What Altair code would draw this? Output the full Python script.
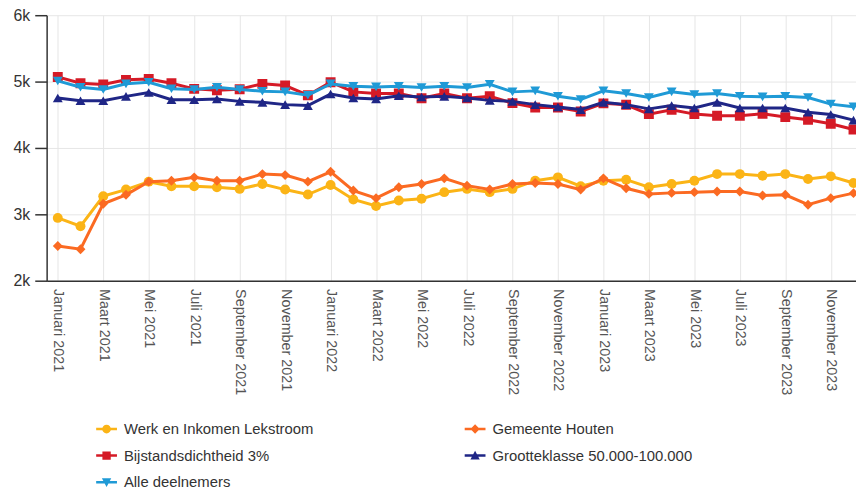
import json
import altair as alt
import pandas as pd

months_nl = ["Januari", "Februari", "Maart", "April", "Mei", "Juni", "Juli",
             "Augustus", "September", "Oktober", "November", "December"]
years = [2021, 2022, 2023]
month_labels = [f"{m} {y}" for y in years for m in months_nl]

series_names = ["Werk en Inkomen Lekstroom", "Gemeente Houten", "Bijstandsdichtheid 3%",
                "Grootteklasse 50.000-100.000", "Alle deelnemers"]
series_colors = ["#fbb416", "#fb6a22", "#d51a26", "#1f2686", "#1f9ad6"]
series_shapes = ["circle", "diamond", "square", "triangle-up", "triangle-down"]

werk = [2946, 2821, 3274, 3373, 3492, 3423, 3423, 3408, 3383, 3457, 3373, 3298,
        3443, 3224, 3125, 3209, 3234, 3334, 3383, 3334, 3383, 3507, 3557, 3423,
        3507, 3522, 3408, 3457, 3507, 3606, 3606, 3581, 3606, 3532, 3572, 3472]
houten = [2523, 2474, 3159, 3294, 3492, 3507, 3557, 3507, 3507, 3606, 3591, 3492,
          3641, 3358, 3244, 3408, 3457, 3542, 3432, 3373, 3457, 3472, 3457, 3373,
          3542, 3393, 3308, 3323, 3334, 3343, 3343, 3283, 3294, 3145, 3244, 3319]
bijstand = [5070, 4975, 4956, 5026, 5040, 4975, 4890, 4870, 4885, 4966, 4940, 4795,
            4990, 4845, 4820, 4820, 4750, 4820, 4750, 4780, 4675, 4610, 4610, 4550,
            4672, 4650, 4510, 4575, 4510, 4485, 4485, 4515, 4465, 4425, 4365, 4278]
grootte = [4753, 4712, 4712, 4777, 4836, 4727, 4727, 4738, 4702, 4687, 4653, 4638,
           4812, 4753, 4738, 4787, 4767, 4777, 4753, 4717, 4702, 4653, 4618, 4578,
           4687, 4653, 4589, 4638, 4603, 4687, 4603, 4603, 4603, 4538, 4504, 4419]
alle = [5010, 4915, 4880, 4966, 4990, 4892, 4880, 4915, 4880, 4855, 4845, 4795,
        4965, 4930, 4920, 4930, 4910, 4930, 4910, 4960, 4845, 4860, 4780, 4730,
        4860, 4820, 4760, 4845, 4805, 4820, 4780, 4770, 4780, 4760, 4660, 4620]
y_ticks = [2000, 3000, 4000, 5000, 6000]

all_values = [werk, houten, bijstand, grootte, alle]
rows = []
for name, vals in zip(series_names, all_values):
    for i, v in enumerate(vals):
        rows.append({"idx": i, "series": name, "value": v})
df = pd.DataFrame(rows)

# legend symbol paths: a short line with the marker in the middle
bar = "M-1,-0.12H1V0.12H-1Z"
legend_paths = [
    bar + " M0.42,0A0.42,0.42 0 1,1 -0.42,0A0.42,0.42 0 1,1 0.42,0Z",
    bar + " M0,-0.45L0.45,0L0,0.45L-0.45,0Z",
    bar + " M-0.4,-0.4H0.4V0.4H-0.4Z",
    bar + " M0,-0.45L0.45,0.38L-0.45,0.38Z",
    bar + " M-0.45,-0.38L0.45,-0.38L0,0.45Z",
]

label_expr = json.dumps(month_labels) + "[datum.value]"

x_enc = alt.X("idx:Q",
              scale=alt.Scale(domain=[-0.49, 35.11], nice=False, zero=False),
              axis=alt.Axis(values=list(range(0, 36, 2)), labelExpr=label_expr,
                            labelAngle=90, title=None, grid=True, gridColor="#e6e6e6",
                            domainColor="#333333", domainWidth=1.5, tickSize=0,
                            labelPadding=8, labelFontSize=14.5, labelColor="#555555",
                            labelFont="Liberation Sans", labelOverlap=False))
y_enc = alt.Y("value:Q",
              scale=alt.Scale(domain=[2000, 6000], nice=False, zero=False),
              axis=alt.Axis(values=y_ticks, labelExpr="datum.value / 1000 + 'k'",
                            title=None, grid=True, gridColor="#e6e6e6",
                            domainColor="#333333", domainWidth=1.5, tickColor="#333333",
                            tickSize=12, tickWidth=1.5, labelPadding=5, labelFontSize=16,
                            labelColor="#333333", labelFont="Liberation Sans"))

base = alt.Chart(df)
layers = []
for name, col, shp in zip(series_names, series_colors, series_shapes):
    sub = base.transform_filter(alt.datum.series == name)
    layers.append(sub.mark_line(color=col, strokeWidth=3, clip=True).encode(x=x_enc, y=y_enc))
    layers.append(sub.mark_point(shape=shp, color=col, filled=True, opacity=1, size=100,
                                 clip=True).encode(x=x_enc, y=y_enc))

legend_layer = base.transform_filter(alt.datum.value < 0).mark_point(
    filled=True, opacity=1).encode(
    x=x_enc, y=y_enc,
    color=alt.Color("series:N",
                    scale=alt.Scale(domain=series_names, range=series_colors),
                    legend=alt.Legend(title=None, orient="none", legendX=50, legendY=407,
                                      direction="horizontal",
                                      columns=2, columnPadding=152, rowPadding=8,
                                      symbolSize=441, symbolStrokeWidth=0,
                                      symbolOpacity=1, labelFontSize=15,
                                      labelColor="#333333", labelFont="Liberation Sans",
                                      labelOffset=7, labelLimit=400, padding=0)),
    shape=alt.Shape("series:N",
                    scale=alt.Scale(domain=series_names, range=legend_paths)),
)

chart = alt.layer(*layers, legend_layer).properties(
    width=817, height=268,
    autosize=alt.AutoSizeParams(type="none"),
    padding={"left": 39, "top": 5, "right": 0, "bottom": 209},
).configure_view(stroke=None)

chart.save("out.html", embed_options={"renderer": "svg", "actions": False})
